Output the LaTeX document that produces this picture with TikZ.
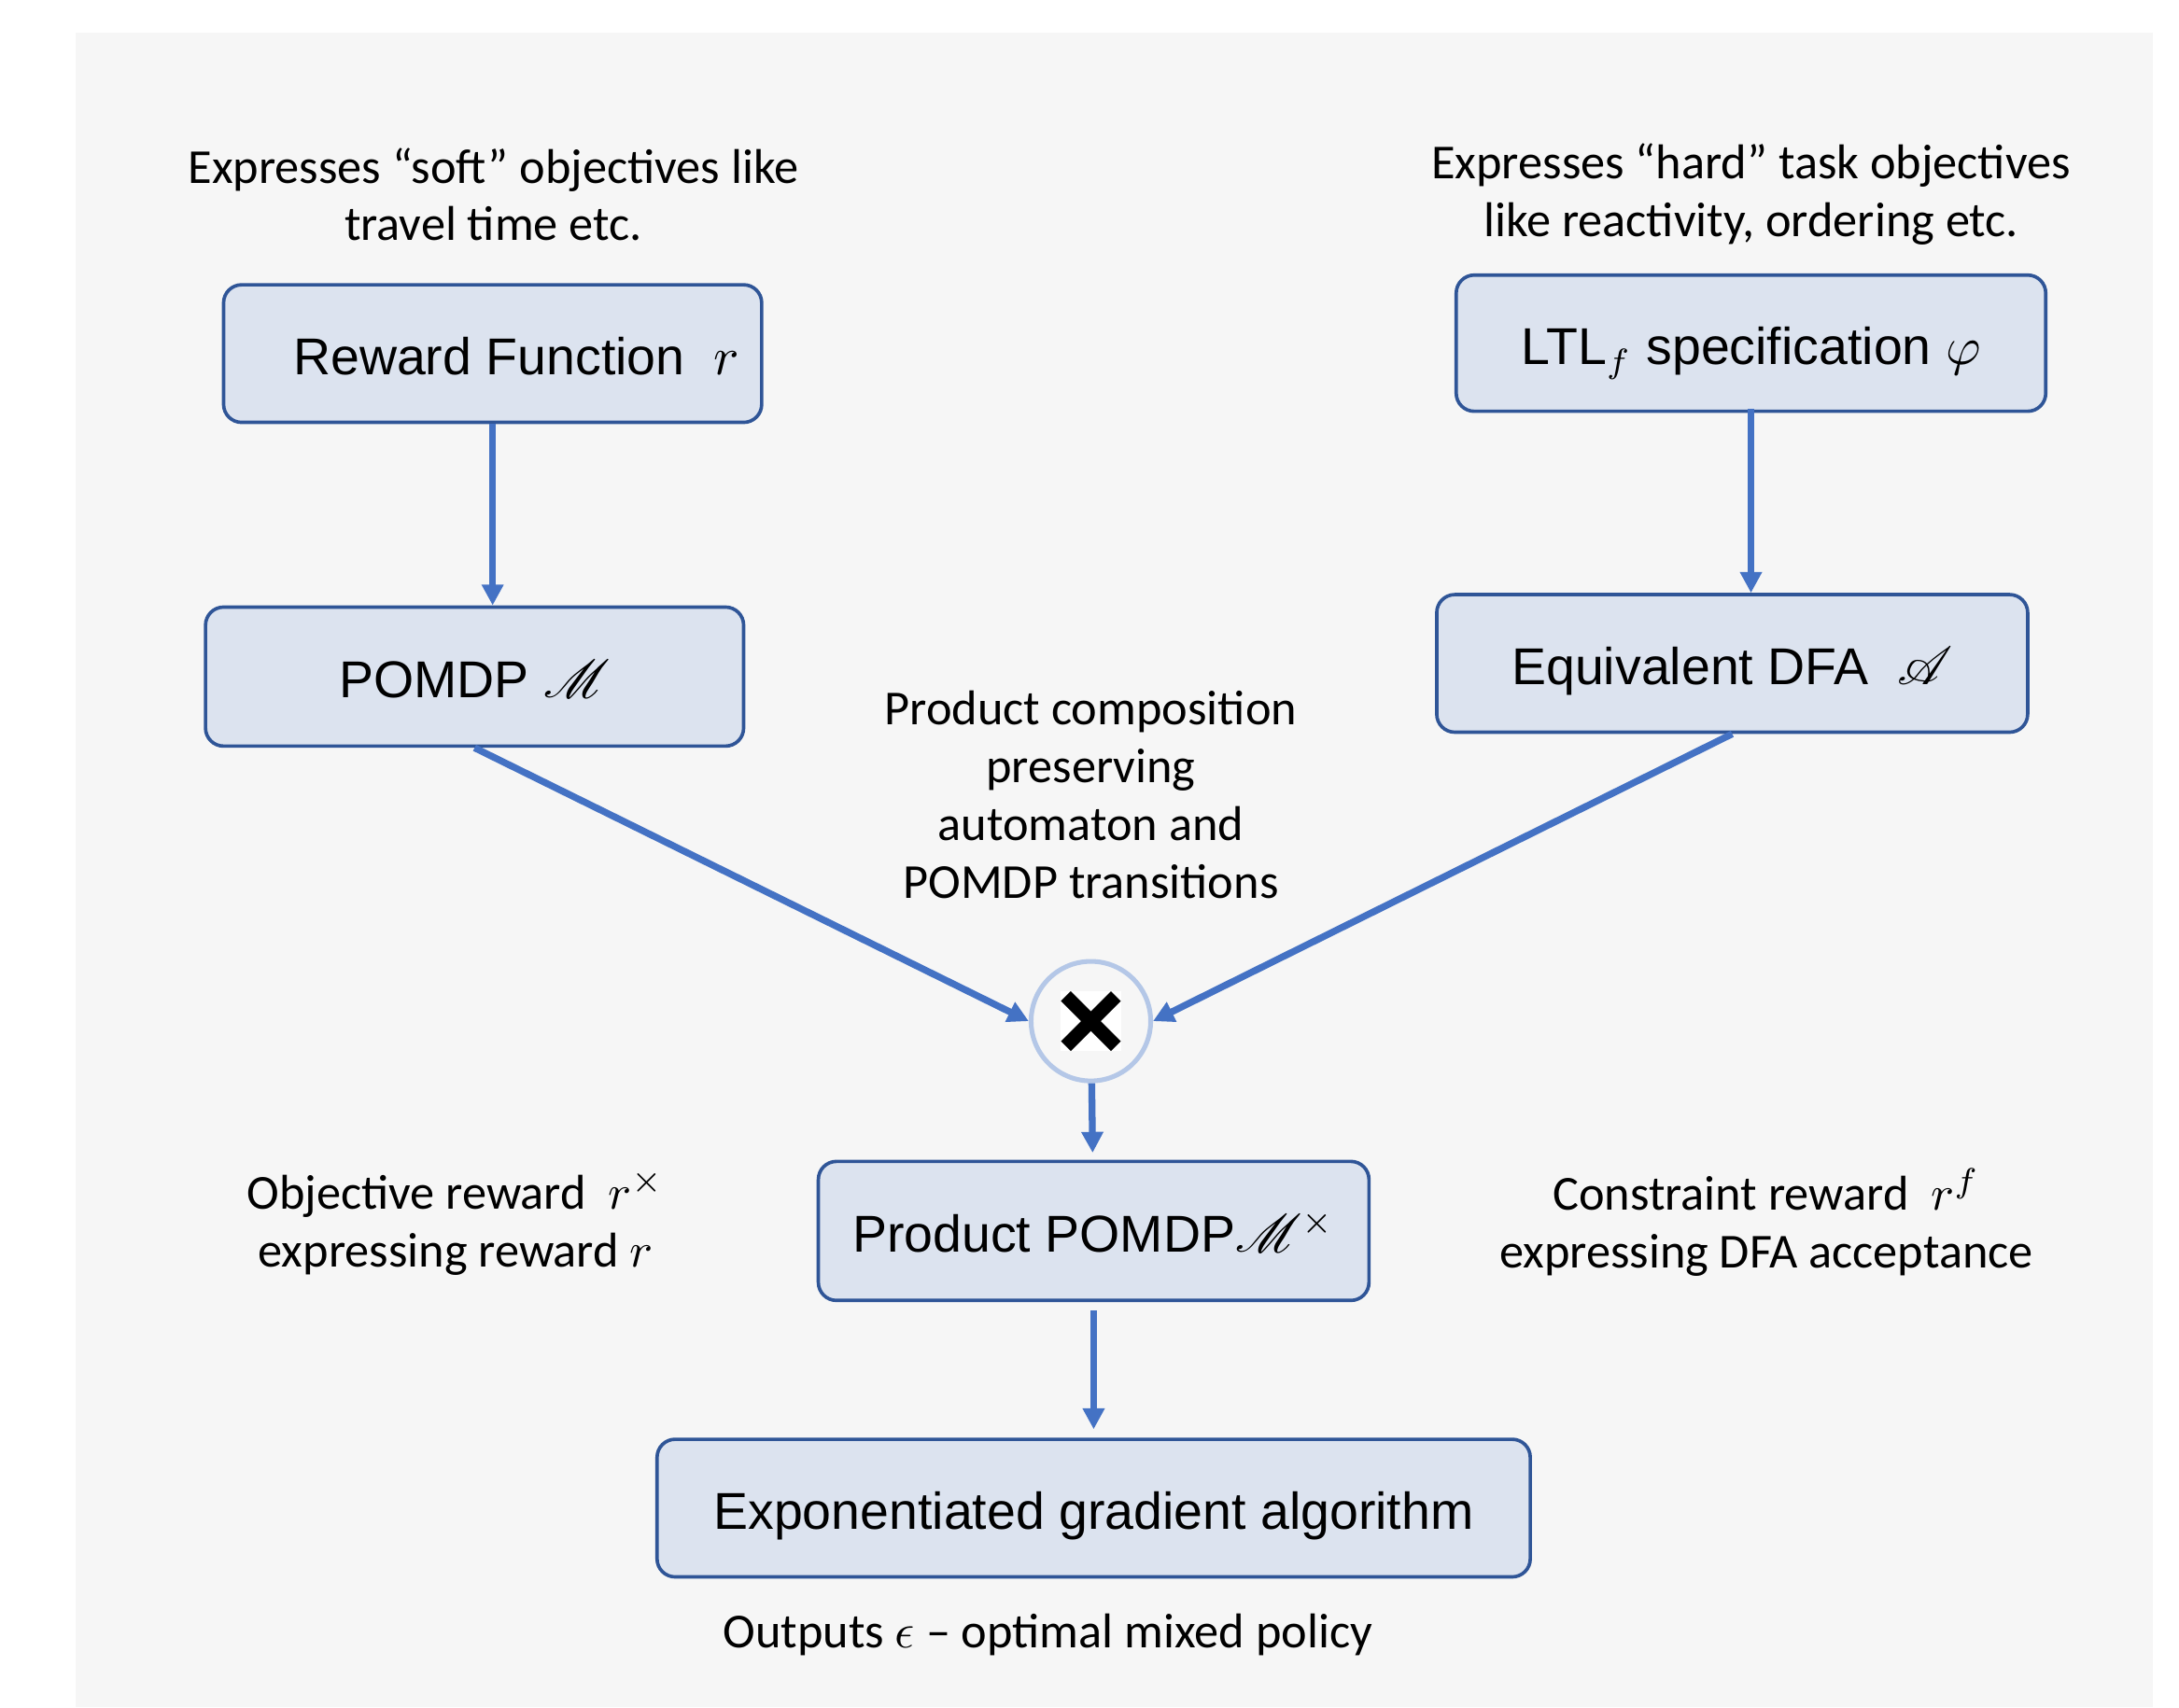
\documentclass[tikz,border=0pt]{standalone}
\usepackage{fontspec}
\usepackage{amsmath}
\usepackage{mathrsfs}
\setmainfont{Carlito}
\newfontfamily\arialfont{Liberation Sans}
\usetikzlibrary{
  arrows.meta,
  chains,
  scopes,
  positioning
}
\definecolor{pagegray}{HTML}{F6F6F6}
\definecolor{boxfill}{HTML}{DCE3EF}
\definecolor{boxedge}{HTML}{2F5597}
\definecolor{flowblue}{HTML}{4472C4}
\definecolor{ringblue}{HTML}{B4C7E7}

\begin{document}
\begin{tikzpicture}[
      x=0.01cm, y=-0.01cm,
      block/.style={
         rectangle,
         rounded corners=0.13cm,
         minimum height=0.99cm,
         line width=0.7pt,
         draw=boxedge,
         fill=boxfill,
         text height=8.7pt,
         text depth=0pt,
         font=\arialfont\fontsize{10.6}{12.7}\selectfont
      },
      note/.style={
         align=center,
         font=\fontsize{10}{11.8}\selectfont
      },
      ring/.style={
         circle,
         minimum size=0.86cm,
         line width=0.034cm,
         draw=ringblue,
         fill=pagegray
      },
      >={Triangle[length=0.15cm,width=0.15cm]},
      tip/.style={->, line width=0.049cm, draw=flowblue},
    ]
    % page
    \fill[pagegray] (54.4,23.5) rectangle (1549,1229);
    \useasboundingbox (0,0) rectangle (1568,1229);

    % boxes
    \node (reward)  [block, minimum width=3.87cm] at (354.5,254.5) {\hspace{0.34cm}Reward Function\ \ $r$};
    \node (pomdp)   [block, minimum width=3.87cm, minimum height=1cm] at (341.5,487) {POMDP $\mathscr{M}$};
    \node (ltl)     [block, minimum width=4.24cm, minimum height=0.98cm] at (1260,247) {LTL$_f$ specification $\varphi$};
    \node (dfa)     [block, minimum width=4.25cm] at (1246.5,477.5) {Equivalent DFA \ $\mathscr{A}$};
    \node (cross)   [ring] at (785,735) {};
    \node (product) [block, minimum width=3.96cm, minimum height=1cm] at (787,886) {Product POMDP$\mathscr{M}^{\times}$};
    \node (expgrad) [block, minimum width=6.28cm] at (787,1085.5) {Exponentiated gradient algorithm\hspace{0.16cm}};

    % product sign
    \node (mark) [fill=white, inner sep=0pt, minimum size=0.43cm] at (cross) {};
    \draw[line width=0.1cm] (mark.center) ++(-18,-18) -- ++(36,36);
    \draw[line width=0.1cm] (mark.center) ++(-18,18) -- ++(36,-36);

    % notes
    \node (softnote) [note] at (355,140) {Expresses “soft” objectives like\\travel time etc.};
    \node (hardnote) [note] at (1260,140) {Expresses “hard” task objectives\\like reactivity, ordering etc.};
    \node (prodnote) [note] at (785,572) {Product composition\\preserving\\automaton and\\POMDP transitions};
    \node (objnote)  [note] at (328,880) {Objective reward \ $r^{\times}$\\expressing reward $r$};
    \node (connote)  [note] at (1271,880) {Constraint reward \ $r^{f}$\\expressing DFA acceptance};
    \node (outnote)  [note] at (754,1177) {Outputs $\epsilon$ – optimal mixed policy};

    % arrows
    \draw[tip] (reward.south) -- (reward.south |- pomdp.north);
    \draw[tip] ([yshift=0.03cm]ltl.south) -- (ltl.south |- dfa.north);
    \draw[tip] (pomdp.south) -- (cross.west);
    \draw[tip] (dfa.south) -- (cross.east);
  { [start chain]
       \chainin (cross);
       \chainin (product) [join=by {tip, shorten >=0.05cm}];
  }
  { [start chain]
       \chainin (product);
       \chainin (expgrad) [join=by {tip, shorten <=0.06cm, shorten >=0.06cm}];
  }
\end{tikzpicture}
\end{document}
